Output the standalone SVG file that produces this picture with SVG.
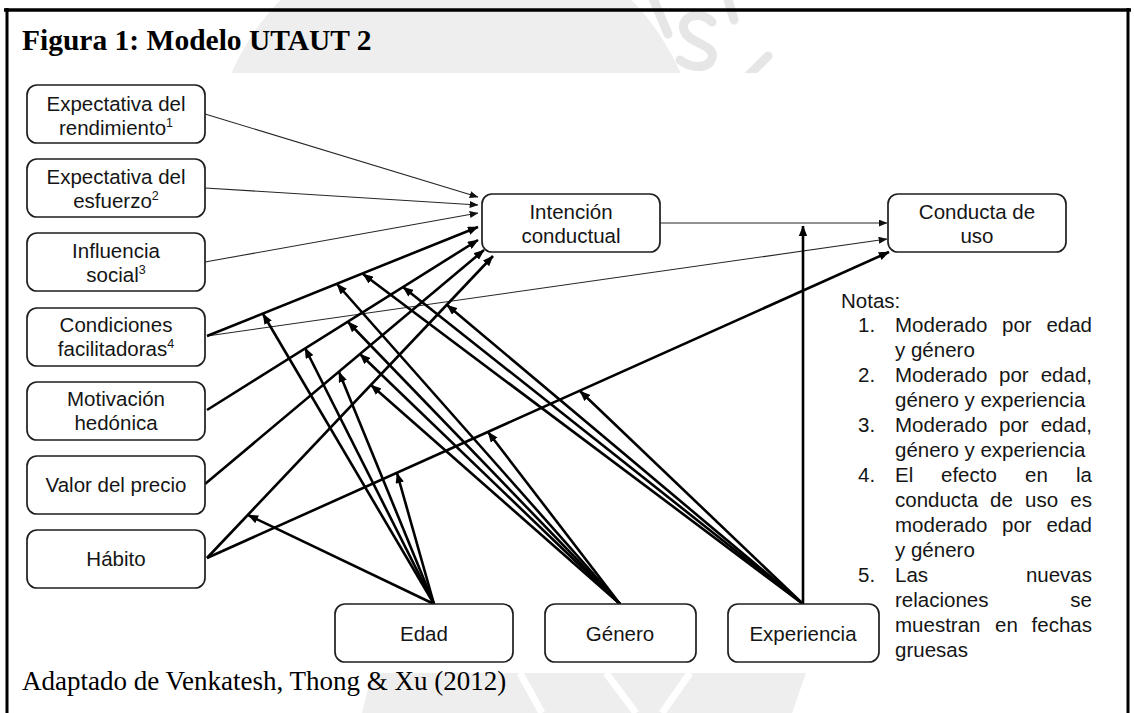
<svg xmlns="http://www.w3.org/2000/svg" width="1134" height="713" viewBox="0 0 1134 713">
  <style>
    .box{fill:#fff;stroke:#1e1e1e;stroke-width:1.7}
    .lbl{font-family:"Liberation Sans",Arial,sans-serif;font-size:20.5px;fill:#151515;text-anchor:middle}
    .sup{font-size:12.5px}
    .note{font-family:"Liberation Sans",Arial,sans-serif;font-size:20.5px;fill:#151515}
    .end{text-anchor:end}
    .thin{stroke:#262626;stroke-width:1.1;fill:none;marker-end:url(#ah-thin)}
    .thick{stroke:#000;stroke-width:2.6;fill:none;marker-end:url(#ah)}
    .wm{fill:#eeeeee}
    .wms{fill:none;stroke:#e6e6e6;stroke-width:9;stroke-linecap:round}
  </style>
  <defs>
    <marker id="ah" viewBox="0 0 10 8" refX="9.5" refY="4" markerWidth="11" markerHeight="8.5" markerUnits="userSpaceOnUse" orient="auto">
      <path d="M0,0 L10,4 L0,8 z" fill="#000"/>
    </marker>
    <marker id="ah-thin" viewBox="0 0 10 8" refX="9.5" refY="4" markerWidth="9" markerHeight="7" markerUnits="userSpaceOnUse" orient="auto">
      <path d="M0,0 L10,4 L0,8 z" fill="#111"/>
    </marker>
    <clipPath id="bands">
      <rect x="0" y="0" width="1134" height="73"/>
      <rect x="360" y="673" width="450" height="40"/>
    </clipPath>
  </defs>

  <rect width="1134" height="713" fill="#fff"/>

  <!-- faint seal watermark showing above and below the figure panel -->
  <g clip-path="url(#bands)">
    <circle class="wm" cx="456" cy="171" r="245"/>
    <path class="wms" d="M652,-4 L668,34"/>
    <path class="wms" d="M712,22 C700,10 680,16 684,30 C688,44 716,44 712,58 C708,70 690,68 680,60"/>
    <path class="wms" d="M727,-4 L734,20"/>
    <path class="wms" d="M768,56 L748,76"/>
    <path class="wm" d="M362,713 L372,673 L806,673 L792,713 Z"/>
    <path d="M520,673 L542,713 M606,673 L636,713 M690,673 L662,713" stroke="#fff" stroke-width="7" fill="none"/>
  </g>

  <!-- page frame -->
  <g fill="none" stroke="#000">
    <line x1="4" y1="10" x2="1131" y2="10" stroke-width="3.5"/>
    <line x1="7" y1="8" x2="7" y2="713" stroke-width="3"/>
    <line x1="1128" y1="8" x2="1128" y2="713" stroke-width="3"/>
  </g>

  <text x="22" y="50" font-family="'Liberation Serif','Times New Roman',serif" font-weight="bold" font-size="29.5" fill="#000">Figura 1: Modelo UTAUT 2</text>

  <!-- relations -->
  <g id="connectors">
    <!-- original relations (thin) -->
    <path class="thin" d="M205,114 L478,197"/>
    <path class="thin" d="M205,188 L478,205"/>
    <path class="thin" d="M205,262 L478,213"/>
    <path class="thin" d="M660,223 L887,223"/>
    <path class="thin" d="M207,336 L887,239"/>
    <!-- new relations (thick) -->
    <path class="thick" d="M207,336 L478,227"/>
    <path class="thick" d="M207,410 L478,240"/>
    <path class="thick" d="M205,484 L484,250"/>
    <path class="thick" d="M207,558 L493,256"/>
    <path class="thick" d="M207,558 L889,252"/>
    <path class="thick" d="M803,604 L803,226"/>
    <!-- Edad -->
    <path class="thick" d="M434,604 L263,314"/>
    <path class="thick" d="M434,604 L305,348"/>
    <path class="thick" d="M434,604 L339,372"/>
    <path class="thick" d="M434,604 L248,515"/>
    <path class="thick" d="M434,604 L397,473"/>
    <!-- Género -->
    <path class="thick" d="M620,604 L337,284"/>
    <path class="thick" d="M620,604 L348,322"/>
    <path class="thick" d="M620,604 L360,354"/>
    <path class="thick" d="M620,604 L371,385"/>
    <path class="thick" d="M620,604 L488,432"/>
    <!-- Experiencia -->
    <path class="thick" d="M803,604 L363,274"/>
    <path class="thick" d="M803,604 L403,287"/>
    <path class="thick" d="M803,604 L447,305"/>
    <path class="thick" d="M803,604 L580,391"/>
  </g>

  <!-- constructs -->
  <g id="n-rendimiento">
    <rect class="box" x="27" y="85" width="178" height="58" rx="10"/>
    <text class="lbl" x="116" y="111">Expectativa del</text>
    <text class="lbl" x="116" y="135">rendimiento<tspan class="sup" dy="-8">1</tspan></text>
  </g>
  <g id="n-esfuerzo">
    <rect class="box" x="27" y="159" width="178" height="58" rx="10"/>
    <text class="lbl" x="116" y="184">Expectativa del</text>
    <text class="lbl" x="116" y="208">esfuerzo<tspan class="sup" dy="-8">2</tspan></text>
  </g>
  <g id="n-influencia">
    <rect class="box" x="27" y="233" width="178" height="58" rx="10"/>
    <text class="lbl" x="116" y="258">Influencia</text>
    <text class="lbl" x="116" y="282">social<tspan class="sup" dy="-8">3</tspan></text>
  </g>
  <g id="n-condiciones">
    <rect class="box" x="27" y="308" width="178" height="58" rx="10"/>
    <text class="lbl" x="116" y="332">Condiciones</text>
    <text class="lbl" x="116" y="356">facilitadoras<tspan class="sup" dy="-8">4</tspan></text>
  </g>
  <g id="n-motivacion">
    <rect class="box" x="27" y="382" width="178" height="58" rx="10"/>
    <text class="lbl" x="116" y="406">Motivación</text>
    <text class="lbl" x="116" y="430">hedónica</text>
  </g>
  <g id="n-precio">
    <rect class="box" x="27" y="456" width="178" height="58" rx="10"/>
    <text class="lbl" x="116" y="492">Valor del precio</text>
  </g>
  <g id="n-habito">
    <rect class="box" x="27" y="530" width="178" height="58" rx="10"/>
    <text class="lbl" x="116" y="566">Hábito</text>
  </g>
  <g id="n-intencion">
    <rect class="box" x="482" y="194" width="178" height="58" rx="10"/>
    <text class="lbl" x="571" y="219">Intención</text>
    <text class="lbl" x="571" y="243">conductual</text>
  </g>
  <g id="n-conducta">
    <rect class="box" x="888" y="194" width="178" height="58" rx="10"/>
    <text class="lbl" x="977" y="219">Conducta de</text>
    <text class="lbl" x="977" y="243">uso</text>
  </g>
  <g id="n-edad">
    <rect class="box" x="335" y="604" width="178" height="58" rx="10"/>
    <text class="lbl" x="424" y="641">Edad</text>
  </g>
  <g id="n-genero">
    <rect class="box" x="545" y="604" width="151" height="58" rx="10"/>
    <text class="lbl" x="620" y="641">Género</text>
  </g>
  <g id="n-experiencia">
    <rect class="box" x="728" y="604" width="151" height="58" rx="10"/>
    <text class="lbl" x="803" y="641">Experiencia</text>
  </g>

  <!-- notes -->
  <g id="notas" class="note">
    <text x="841" y="308">Notas:</text>
    <text x="858" y="332">1.</text>
    <text x="895" y="332">Moderado</text><text x="1002" y="332">por</text><text class="end" x="1092" y="332">edad</text>
    <text x="895" y="357">y género</text>
    <text x="858" y="382">2.</text>
    <text x="895" y="382">Moderado</text><text x="999" y="382">por</text><text class="end" x="1092" y="382">edad,</text>
    <text x="895" y="407">género y experiencia</text>
    <text x="858" y="432">3.</text>
    <text x="895" y="432">Moderado</text><text x="999" y="432">por</text><text class="end" x="1092" y="432">edad,</text>
    <text x="895" y="457">género y experiencia</text>
    <text x="858" y="482">4.</text>
    <text x="895" y="482">El</text><text x="941" y="482">efecto</text><text x="1025" y="482">en</text><text class="end" x="1092" y="482">la</text>
    <text x="895" y="507">conducta</text><text x="990" y="507">de</text><text x="1025" y="507">uso</text><text class="end" x="1092" y="507">es</text>
    <text x="895" y="532">moderado</text><text x="1002" y="532">por</text><text class="end" x="1092" y="532">edad</text>
    <text x="895" y="557">y género</text>
    <text x="858" y="582">5.</text>
    <text x="895" y="582">Las</text><text class="end" x="1092" y="582">nuevas</text>
    <text x="895" y="607">relaciones</text><text class="end" x="1092" y="607">se</text>
    <text x="895" y="632">muestran</text><text x="995" y="632">en</text><text class="end" x="1092" y="632">fechas</text>
    <text x="895" y="657">gruesas</text>
  </g>

  <text x="22" y="690" font-family="'Liberation Serif','Times New Roman',serif" font-size="27" fill="#000">Adaptado de Venkatesh, Thong &amp; Xu (2012)</text>
</svg>
